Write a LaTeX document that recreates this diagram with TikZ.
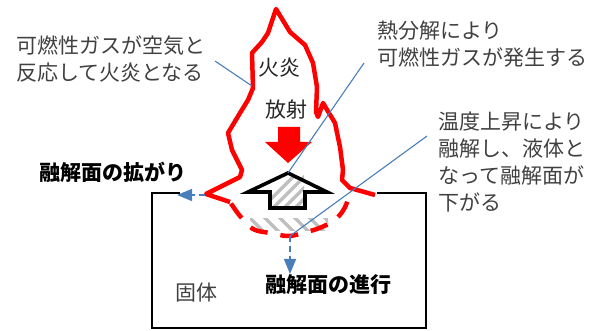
\documentclass[tikz,border=0pt]{standalone}
\usepackage{fontspec}
\newfontfamily\jp{Noto Sans CJK JP}
\usetikzlibrary{arrows.meta}
\definecolor{leader}{HTML}{4A7EBB}
\definecolor{flame}{HTML}{FF0000}
\definecolor{txtgray}{HTML}{404040}
\definecolor{hatchgray}{HTML}{BFBFBF}

\begin{document}
\begin{tikzpicture}[x=1pt,y=-1pt,
  note/.style={inner sep=0pt, font=\jp\fontsize{21}{27}\selectfont, text=txtgray, align=left},
  boldnote/.style={inner sep=0pt, font=\jp\bfseries\fontsize{21}{27}\selectfont, text=black},
  leaderline/.style={draw=leader, line width=1.1pt},
  flameline/.style={draw=flame, line width=4.5pt, line join=round},
  flowarrow/.style={draw=leader, fill=leader, line width=1.4pt, dash pattern=on 6pt off 4pt,
    -{Triangle[length=15pt,width=12pt]}},
  hatchline/.style={draw=hatchgray, line width=3.5pt},
]
\useasboundingbox (0,0) rectangle (600,331);

% solid block
\draw[line width=2.8pt] (180,193) -- (152,193) -- (152,328) -- (426,328) -- (426,193) -- (377,193);

% hatched melt layer below the flame
\begin{scope}
  \clip (250,219) rectangle (328,231);
  \foreach \k in {0,...,7} \draw[hatchline] (232+\k*15,215) -- ++(20,20);
\end{scope}

% hollow up arrow with hatched core
\coordinate (uptip) at (288,173);
\fill[white] (uptip) -- (327,192) -- (305,192) -- (305,208) -- (270,208) -- (270,192) -- (248,192) -- cycle;
\begin{scope}
  \clip (271,176) rectangle (304,207);
  \foreach \k in {0,...,6} \draw[hatchline] (255+\k*11,215) -- ++(40,-40);
\end{scope}
\draw[line width=3.6pt, line join=miter] (uptip) -- (327,192) -- (305,192) -- (305,208) -- (270,208) -- (270,192) -- (248,192) -- cycle;

% red radiation arrow
\fill[flame] (278,127) -- (300,127) -- (300,142) -- (312,142) -- (288,163) -- (265,142) -- (278,142) -- cycle;

% flame outline above the surface
\draw[flameline] (230,202) -- (206,194) -- (240,177) -- (242,170) -- (232,150) -- (228,133)
  -- (240,113) -- (248,100) -- (253,88) -- (252,53) -- (262,42) -- (268,33) -- (276,9)
  -- (290,32) -- (305,45) -- (313,63) -- (317,87) -- (316,112) -- (318,117) -- (323,103)
  -- (335,123) -- (340,147) -- (343,170) -- (342,180) -- (350,188) -- (375,195);
% flame outline below the surface
\draw[flameline, line cap=butt, dash pattern=on 18pt off 13pt, dash phase=18pt]
  plot[smooth, tension=0.6] coordinates {(350,189) (346,205) (337,218) (322,227) (303,233)
  (288,236) (270,233) (253,229) (240,216) (230,202)};

% spreading and descending of the melt surface
\coordinate (edge) at (205,195);
\coordinate (spread) at (177,195);
\coordinate (bottom) at (290,236);
\coordinate (descend) at (290,274);
\draw[flowarrow] (edge) -- (spread);
\draw[flowarrow] (bottom) -- (descend);

% leader lines
\coordinate (la) at (215,61);
\coordinate (lb) at (252,86);
\coordinate (ma) at (364,63);
\coordinate (na) at (427,136);
\draw[leaderline] (la) -- (lb);
\draw[leaderline] (ma) -- (uptip);
\draw[leaderline] (na) -- (bottom);

% labels
\node[note, anchor=west] (combust) at (16,59) {可燃性ガスが空気と\\反応して火炎となる};
\node[note, anchor=west] (pyro) at (377,44.5) {熱分解により\\可燃性ガスが発生する};
\node[note, anchor=west] (melt) at (438,162.5) {温度上昇により\\融解し、液体と\\なって融解面が\\下がる};
\node[note, anchor=center, text=black!85] (fire) at (279,68) {火炎};
\node[note, anchor=center, text=black!85] (rad) at (286,110) {放射};
\node[boldnote, anchor=west] (spreadlbl) at (39,172.5) {融解面の拡がり};
\node[boldnote, anchor=west] (advance) at (265,285) {融解面の進行};
\node[note, anchor=west] (solid) at (175,293) {固体};
\end{tikzpicture}
\end{document}
